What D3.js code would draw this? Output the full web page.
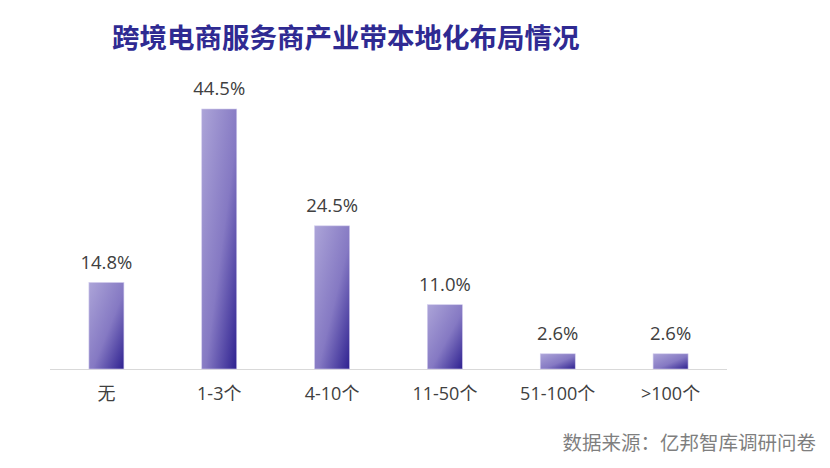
<!DOCTYPE html>
<html lang="zh">
<head>
<meta charset="UTF-8">
<title>跨境电商服务商产业带本地化布局情况</title>
<script src="https://d3js.org/d3.v7.min.js"></script>
<style>
    body { margin: 0; background: #fff; }
    svg text { font-family: "Open Sans", "Noto Sans CJK SC", sans-serif; }
    svg text.cjk { font-family: "Noto Sans CJK SC", sans-serif; }
</style>
</head>
<body>
<svg id="chart" width="830" height="468"></svg>
<script>
    // values
    const categories = ["无", "1-3个", "4-10个", "11-50个", "51-100个", ">100个"];
    const shares = [14.8, 44.5, 24.5, 11.0, 2.6, 2.6];
    const valueLabels = ["14.8%", "44.5%", "24.5%", "11.0%", "2.6%", "2.6%"];

    const svg = d3.select("#chart");

    const x = d3.scaleBand()
        .domain(categories)
        .range([50, 727])
        .paddingInner(0.69)
        .paddingOuter(0.345);

    const y = d3.scaleLinear()
        .domain([0, 44.5])
        .range([369, 109]);

    // diagonal gradient: light top-left -> dark bottom-right
    const grad = svg.append("defs").append("linearGradient")
        .attr("id", "barGrad")
        .attr("x1", "0").attr("y1", "0")
        .attr("x2", "1").attr("y2", "1");
    grad.append("stop").attr("offset", "0%").attr("stop-color", "#aca4d8");
    grad.append("stop").attr("offset", "55%").attr("stop-color", "#8579c3");
    grad.append("stop").attr("offset", "100%").attr("stop-color", "#2e2190");

    // title
    svg.append("text")
        .attr("class", "cjk")
        .attr("x", 112)
        .attr("y", 48)
        .attr("font-size", 27.5)
        .attr("font-weight", "bold")
        .attr("fill", "#2f2a92")
        .text("跨境电商服务商产业带本地化布局情况");

    // baseline
    svg.append("line")
        .attr("x1", 50).attr("x2", 727)
        .attr("y1", y(0) + 0.5).attr("y2", y(0) + 0.5)
        .attr("stroke", "#d9d9d9")
        .attr("stroke-width", 1);

    const bars = svg.append("g").selectAll("g")
        .data(categories.map((c, i) => ({ c, v: shares[i], label: valueLabels[i] })))
        .join("g");

    bars.append("rect")
        .attr("x", d => x(d.c))
        .attr("y", d => y(d.v))
        .attr("width", x.bandwidth())
        .attr("height", d => y(0) - y(d.v))
        .attr("fill", "url(#barGrad)")
        .attr("stroke", "#cfc9ec")
        .attr("stroke-width", 0.6);

    bars.append("text")
        .attr("x", d => x(d.c) + x.bandwidth() / 2)
        .attr("y", d => y(d.v) - 14)
        .attr("text-anchor", "middle")
        .attr("font-size", 18.5)
        .attr("fill", "#404040")
        .text(d => d.label);

    bars.append("text")
        .attr("x", d => x(d.c) + x.bandwidth() / 2)
        .attr("y", 400)
        .attr("text-anchor", "middle")
        .attr("font-size", 18)
        .attr("fill", "#404040")
        .text(d => d.c);

    // source note
    svg.append("text")
        .attr("class", "cjk")
        .attr("x", 816)
        .attr("y", 450)
        .attr("text-anchor", "end")
        .attr("font-size", 19.5)
        .attr("fill", "#7f7f7f")
        .text("数据来源：亿邦智库调研问卷");
</script>
</body>
</html>
